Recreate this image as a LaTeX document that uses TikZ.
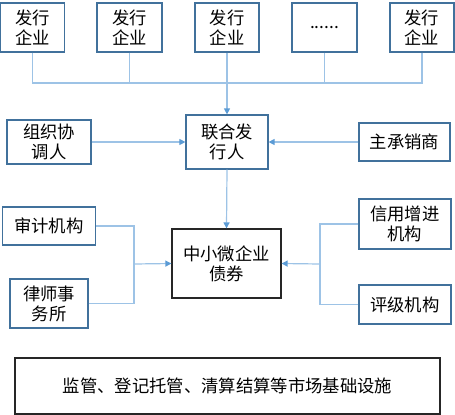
\documentclass[tikz,border=0pt]{standalone}
\usepackage{fontspec}
\newfontfamily\cjk{Noto Sans CJK SC}
\usetikzlibrary{arrows.meta}

\definecolor{boxblue}{RGB}{65,113,156}
\definecolor{linkblue}{RGB}{157,195,230}
\definecolor{tipblue}{RGB}{91,155,213}

\tikzset{every picture/.style={line width=0.75pt}}

\begin{document}
\begin{tikzpicture}[x=0.75pt,y=0.75pt,yscale=-1,xscale=1,
  party/.style={draw=boxblue,line width=0.9pt,fill=white,align=center,inner sep=0pt,
    font=\cjk\fontsize{13}{15}\selectfont},
  core/.style={party,draw={rgb,255:red,38;green,38;blue,38}},
  link/.style={draw=linkblue,line width=0.9pt},
  tolink/.style={link,-{Triangle[length=4.5pt,width=4.5pt,color=tipblue]}}]
\path[use as bounding box] (0,0) rectangle (455,415);

%Issuers
\node[party,minimum width=48pt,minimum height=36.75pt] (fx1) at (32.5,27.5) {发行\\企业};
\node[party,minimum width=48.75pt,minimum height=36.75pt] (fx2) at (129.5,27.5) {发行\\企业};
\node[party,minimum width=48pt,minimum height=36.75pt] (fx3) at (227,27.5) {发行\\企业};
\node[party,minimum width=48.75pt,minimum height=36.75pt] (fx4) at (324.5,27.5) {......};
\node[party,minimum width=48pt,minimum height=36.75pt] (fx5) at (422,27.5) {发行\\企业};

%Joint issuer row
\node[party,minimum width=61.5pt,minimum height=40.5pt] (lh) at (227,142) {联合发\\行人};
\node[party,minimum width=63pt,minimum height=33pt] (zz) at (49,142) {组织协\\调人};
\node[party,minimum width=68.25pt,minimum height=28.5pt] (zc) at (404.5,142) {主承销商};

%Bond and service agencies
\node[core,minimum width=81.75pt,minimum height=51.75pt] (zx) at (226.5,263.5) {中小微企业\\债券};
\node[party,minimum width=69.75pt,minimum height=28.5pt] (sj) at (49,226) {审计机构};
\node[party,minimum width=58.5pt,minimum height=36.75pt] (ls) at (49,303.5) {律师事\\务所};
\node[party,minimum width=69pt,minimum height=37.5pt] (xy) at (405,224) {信用增进\\机构};
\node[party,minimum width=69pt,minimum height=29.25pt] (pj) at (405,304.5) {评级机构};

%Infrastructure
\node[core,minimum width=318.75pt,minimum height=42pt] (jc) at (227.5,386) {监管、登记托管、清算结算等市场基础设施};

%Connectors
\coordinate (bus) at (227,83);
\foreach \i in {1,2,4,5} {
  \draw[link] (fx\i.south) |- (bus);
}
\draw[link] (fx3.south) -- (bus);
\draw[tolink] (bus) -- (lh.north);
\draw[tolink] (zz.east) -- (lh.west);
\draw[tolink] (zc.west) -- (lh.east);
\draw[tolink] (lh.south) -- (zx.north);

\coordinate (ljoin) at (134,264);
\draw[link] (sj.east) -| (ljoin);
\draw[link] (ls.east) -| (ljoin);
\draw[tolink] (ljoin) -- (zx.west);

\coordinate (rjoin) at (320,264);
\draw[link] (xy.west) -| (rjoin);
\draw[link] (pj.west) -| (rjoin);
\draw[tolink] (rjoin) -- (zx.east);

\end{tikzpicture}
\end{document}
